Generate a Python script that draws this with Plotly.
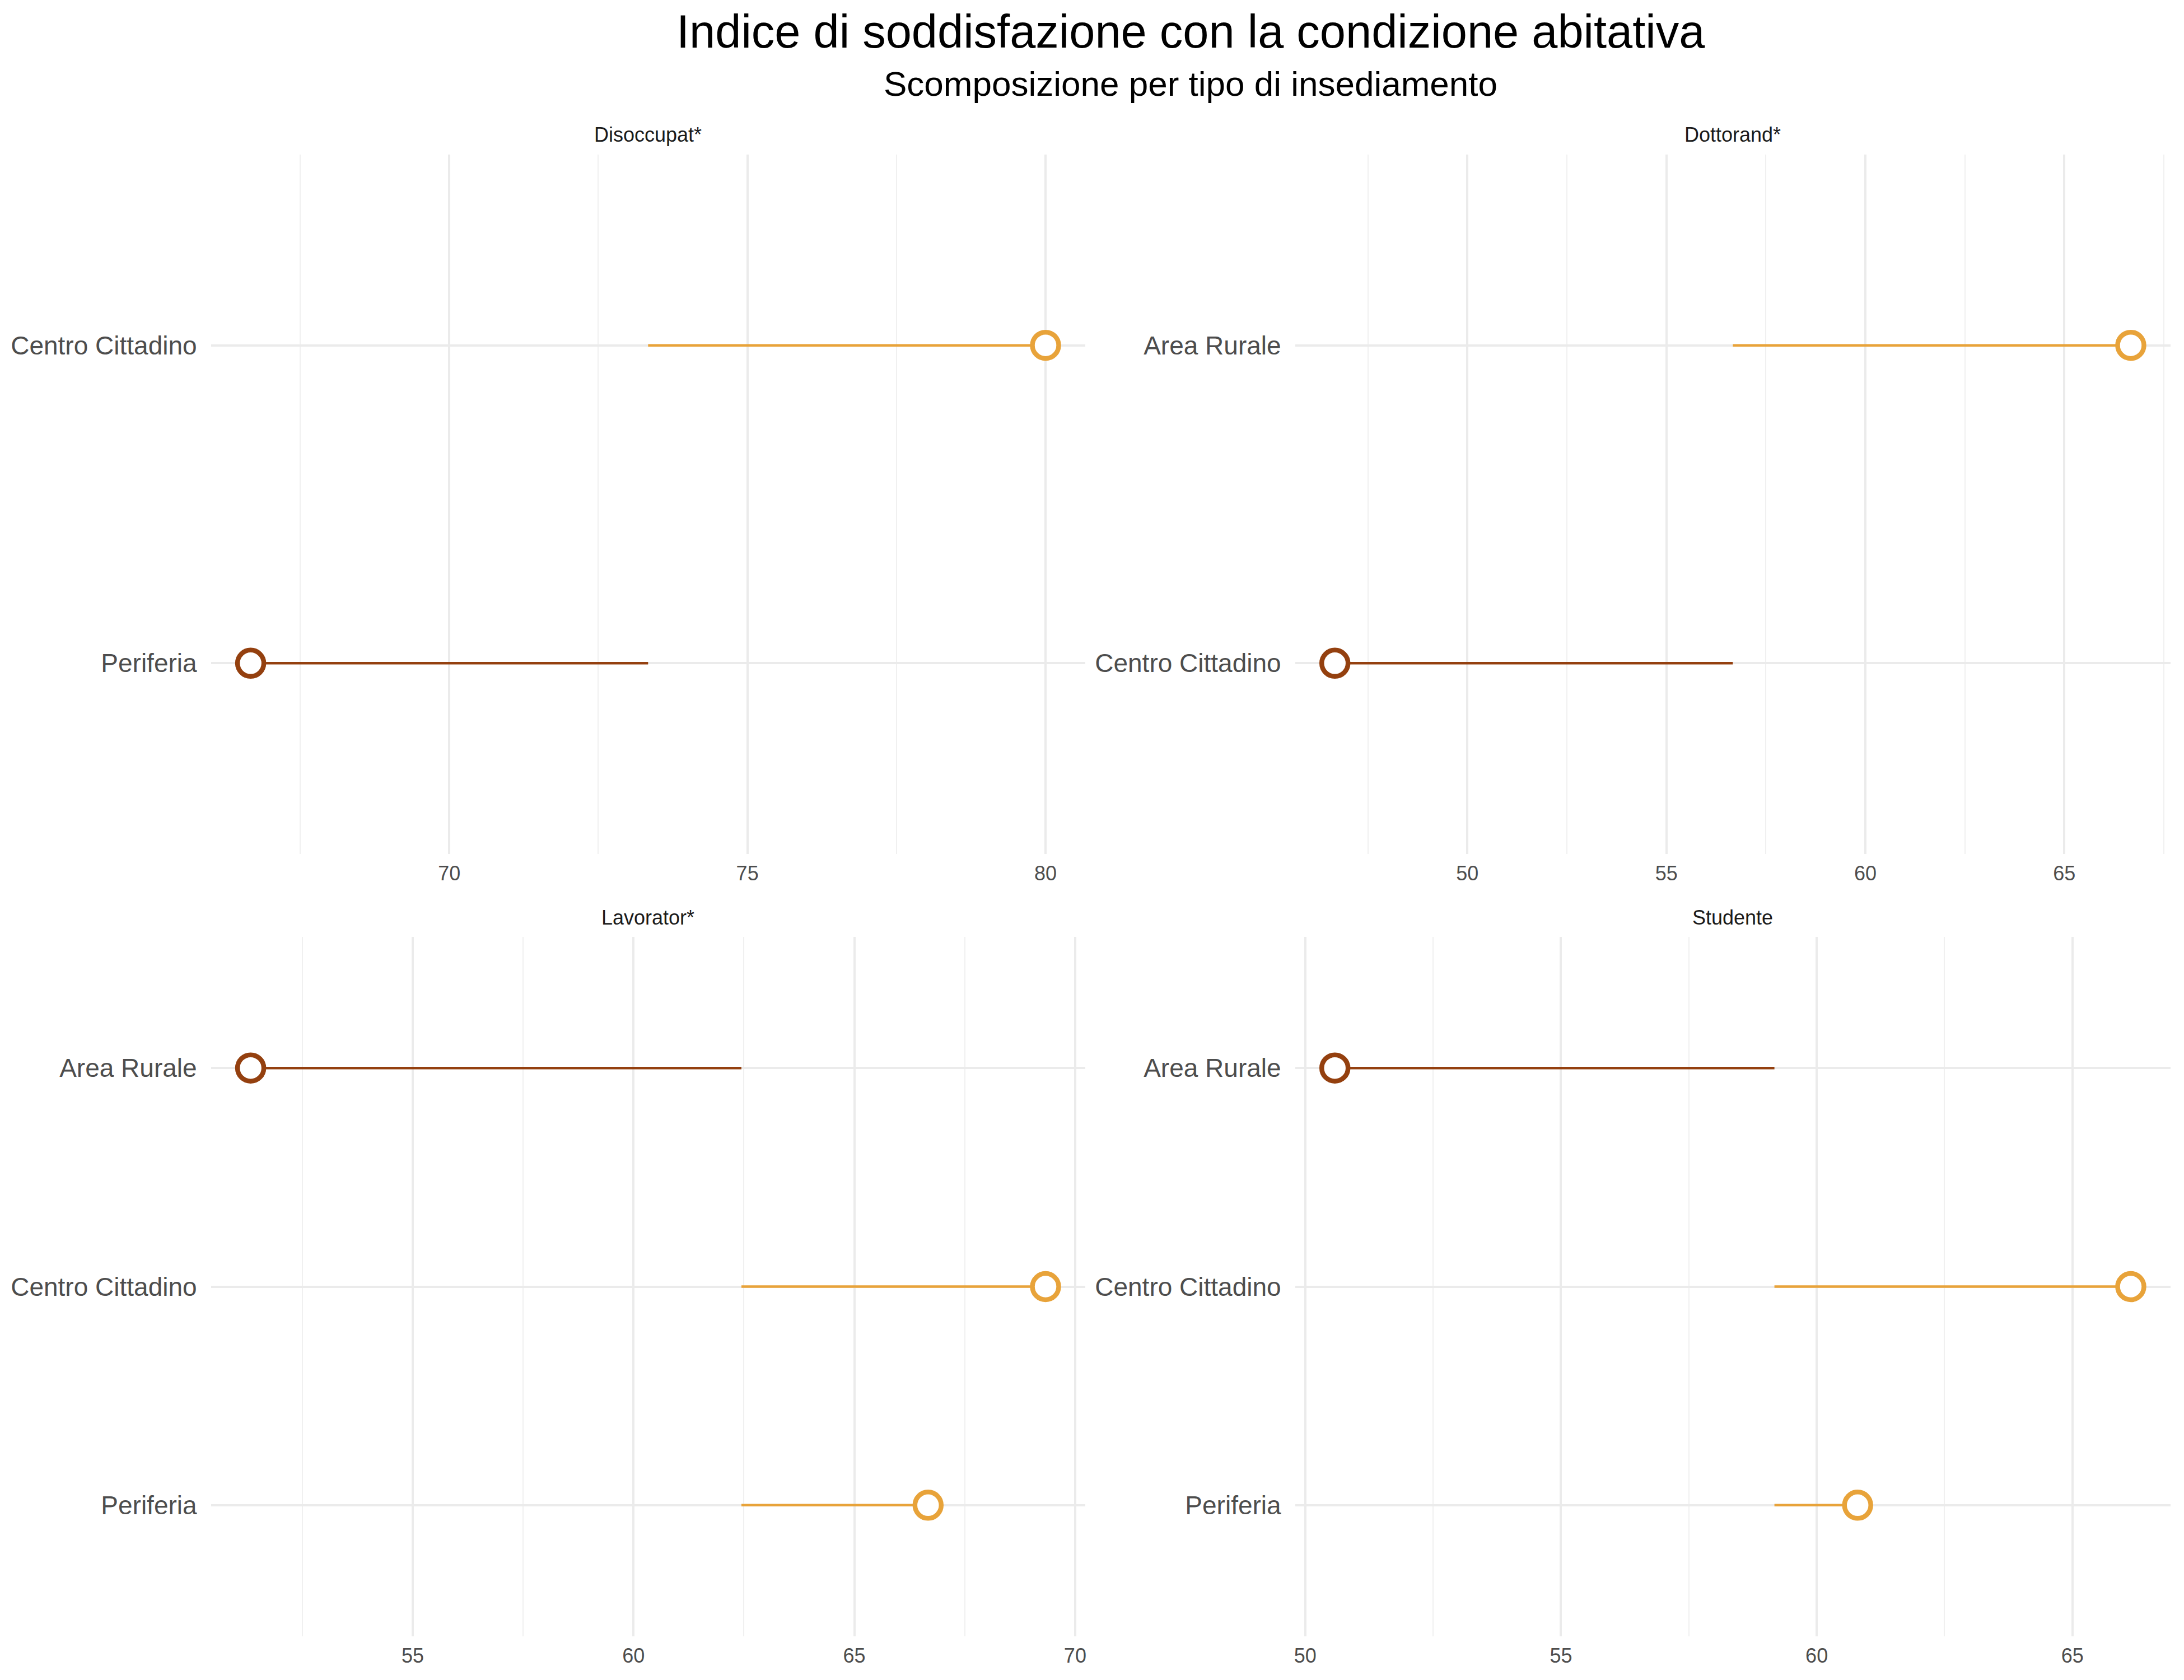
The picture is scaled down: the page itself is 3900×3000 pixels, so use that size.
import plotly.graph_objects as go

# ---- data ----
panels = ["Disoccupat*", "Dottorand*", "Lavorator*", "Studente"]
dis_cats = ["Centro Cittadino", "Periferia"]
dis_vals = [80.0, 66.67]
dot_cats = ["Area Rurale", "Centro Cittadino"]
dot_vals = [66.67, 46.67]
lav_cats = ["Area Rurale", "Centro Cittadino", "Periferia"]
lav_vals = [51.33, 69.33, 66.67]
stu_cats = ["Area Rurale", "Centro Cittadino", "Periferia"]
stu_vals = [50.58, 66.14, 60.80]

title = "Indice di soddisfazione con la condizione abitativa"
subtitle = "Scomposizione per tipo di insediamento"

COL_HI = "#E8A33A"
COL_LO = "#94400F"
GRID = "#EBEBEB"
FONT = "Liberation Sans, Arial, Helvetica, sans-serif"

W, H = 3900, 3000
OFF = 8  # browser default body margin compensation
# panel pixel boxes (left, right, top, bottom)
boxes = [
    (375, 1938, 276, 1525),
    (2313, 3878, 276, 1525),
    (375, 1938, 1673, 2922),
    (2313, 3878, 1673, 2922),
]
strip_y = [241, 241, 1638, 1638]

data = [(dis_cats, dis_vals), (dot_cats, dot_vals), (lav_cats, lav_vals), (stu_cats, stu_vals)]


def px(v):
    return (v - OFF) / W


def py(v):
    return 1 - (v - OFF) / H


fig = go.Figure()
layout = dict(
    width=W, height=H,
    margin=dict(l=0, r=0, t=0, b=0),
    paper_bgcolor="white", plot_bgcolor="white",
    showlegend=False,
    annotations=[],
)

for i, ((cats, vals), (l, r, t, b), name) in enumerate(zip(data, boxes, panels)):
    ax = "" if i == 0 else str(i + 1)
    xa, ya = "x" + ax, "y" + ax
    mean = sum(vals) / len(vals)
    for c, v in zip(cats, vals):
        col = COL_HI if v >= mean else COL_LO
        fig.add_trace(go.Scatter(
            x=[mean, v], y=[c, c], mode="lines",
            line=dict(color=col, width=4.5),
            xaxis=xa, yaxis=ya, hoverinfo="skip",
        ))
    for c, v in zip(cats, vals):
        col = COL_HI if v >= mean else COL_LO
        fig.add_trace(go.Scatter(
            x=[v], y=[c], mode="markers",
            marker=dict(symbol="circle", size=47, color="white",
                        line=dict(color=col, width=8.5)),
            xaxis=xa, yaxis=ya,
        ))
    lo, hi = min(vals), max(vals)
    span = hi - lo
    xr = [lo - 0.05 * span, hi + 0.05 * span]
    n = len(cats)
    layout["xaxis" + ax] = dict(
        domain=[px(l), px(r)], anchor=ya, range=xr,
        dtick=5, tick0=0, showgrid=True, gridcolor=GRID, gridwidth=4,
        minor=dict(dtick=2.5, tick0=0, showgrid=True, gridcolor="#F0F0F0", gridwidth=2),
        zeroline=False, showline=False, ticks="",
        ticklabelstandoff=10,
        tickfont=dict(family=FONT, size=36, color="#4D4D4D"),
    )
    layout["yaxis" + ax] = dict(
        domain=[py(b), py(t)], anchor=xa,
        type="category", categoryorder="array", categoryarray=list(reversed(cats)),
        range=[-0.6, n - 0.4],
        showgrid=True, gridcolor=GRID, gridwidth=4,
        zeroline=False, showline=False, ticks="",
        ticklabelstandoff=24,
        tickfont=dict(family=FONT, size=46, color="#4D4D4D"),
    )
    layout["annotations"].append(dict(
        text=name, x=px((l + r) / 2), y=py(strip_y[i]),
        xref="paper", yref="paper", xanchor="center", yanchor="middle",
        showarrow=False, font=dict(family=FONT, size=36, color="#1A1A1A"),
    ))

cx = px((375 + 3878) / 2)
layout["annotations"].append(dict(
    text=title, x=cx, y=py(56), xref="paper", yref="paper",
    xanchor="center", yanchor="middle", showarrow=False,
    font=dict(family=FONT, size=83, color="black"),
))
layout["annotations"].append(dict(
    text=subtitle, x=cx, y=py(149), xref="paper", yref="paper",
    xanchor="center", yanchor="middle", showarrow=False,
    font=dict(family=FONT, size=62, color="black"),
))

fig.update_layout(**layout)
fig.write_html("out.html")
